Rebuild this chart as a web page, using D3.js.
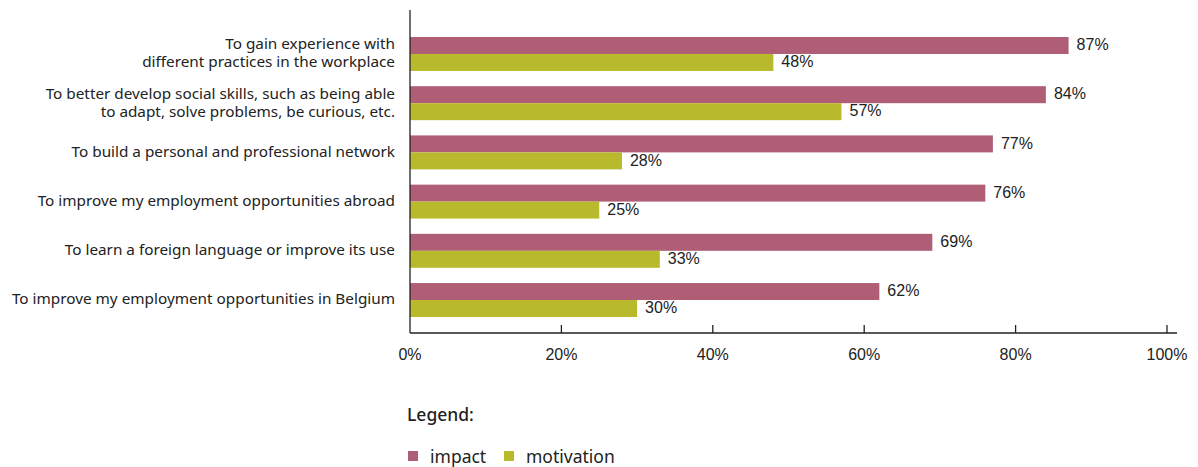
<!DOCTYPE html>
<html><head><meta charset="utf-8">
<script src="https://cdn.jsdelivr.net/npm/d3@7"></script>
<style>body{margin:0;background:#fff}svg{display:block}</style>
</head><body>
<svg id="c" width="1198" height="467"></svg>
<script>
const categories = [
  ["To gain experience with", "different practices in the workplace"],
  ["To better develop social skills, such as being able", "to adapt, solve problems, be curious, etc."],
  ["To build a personal and professional network"],
  ["To improve my employment opportunities abroad"],
  ["To learn a foreign language or improve its use"],
  ["To improve my employment opportunities in Belgium"]
];
const impact = [87, 84, 77, 76, 69, 62];
const motivation = [48, 57, 28, 25, 33, 30];
const seriesNames = ["impact", "motivation"];
const colors = ["#b05e76", "#b9b92d"];
const ticks = [0, 20, 40, 60, 80, 100];

const svg = d3.select("#c");
const x = d3.scaleLinear().domain([0, 100]).range([410, 1167]);
const y = d3.scaleBand().domain(d3.range(categories.length)).range([37, 317]).paddingInner(0.31);
const sub = d3.scaleBand().domain(seriesNames).range([0, y.bandwidth()]);
const catFont = "'Noto Sans', sans-serif";
const numFont = "'Liberation Sans', Arial, sans-serif";
const series = [impact, motivation];

// bars
series.forEach((vals, si) => {
  const g = svg.append("g");
  g.selectAll("rect").data(vals).join("rect")
    .attr("x", x(0)).attr("y", (d, i) => y(i) + sub(seriesNames[si]))
    .attr("width", d => x(d) - x(0)).attr("height", sub.bandwidth())
    .attr("fill", colors[si]);
  g.selectAll("text").data(vals).join("text")
    .attr("x", d => x(d) + 8).attr("y", (d, i) => y(i) + sub(seriesNames[si]) + sub.bandwidth() / 2 - 1)
    .attr("dy", "0.36em").attr("font-family", numFont).attr("font-size", 16).attr("fill", "#222")
    .text(d => d + "%");
});

// category labels
categories.forEach((lines, i) => {
  const cy = y(i) + y.bandwidth() / 2;
  const t = svg.append("text").attr("text-anchor", "end").attr("font-family", catFont)
    .attr("font-size", 15.3).attr("fill", "#222");
  const lh = 18;
  lines.forEach((l, k) => {
    t.append("tspan").attr("x", 395).attr("y", cy + (k - (lines.length - 1) / 2) * lh - 1).attr("dy", "0.35em").text(l);
  });
});

// axes
const ax = svg.append("g").attr("stroke", "#222").attr("stroke-width", 1.3);
ax.append("line").attr("x1", x(0)).attr("x2", x(0)).attr("y1", 10).attr("y2", 333);
ax.append("line").attr("x1", x(0)).attr("x2", x(100) + 10).attr("y1", 333).attr("y2", 333);
ax.selectAll(".tk").data(ticks.slice(1)).join("line")
  .attr("x1", d => x(d)).attr("x2", d => x(d)).attr("y1", 325).attr("y2", 333);
svg.selectAll(".tl").data(ticks).join("text")
  .attr("x", d => x(d)).attr("y", 360).attr("text-anchor", "middle")
  .attr("font-family", numFont).attr("font-size", 16).attr("fill", "#222")
  .text(d => d + "%");

// legend
svg.append("text").attr("x", 407).attr("y", 421).attr("font-family", catFont)
  .attr("font-size", 17.5).attr("font-weight", 500).attr("fill", "#222").text("Legend:");
const lx = [408, 504];
seriesNames.forEach((n, i) => {
  svg.append("rect").attr("x", lx[i]).attr("y", 451).attr("width", 10).attr("height", 10).attr("fill", colors[i]);
  svg.append("text").attr("x", lx[i] + 22).attr("y", 463).attr("font-family", catFont)
    .attr("font-size", 17.5).attr("fill", "#222").text(n);
});
</script>
</body></html>
